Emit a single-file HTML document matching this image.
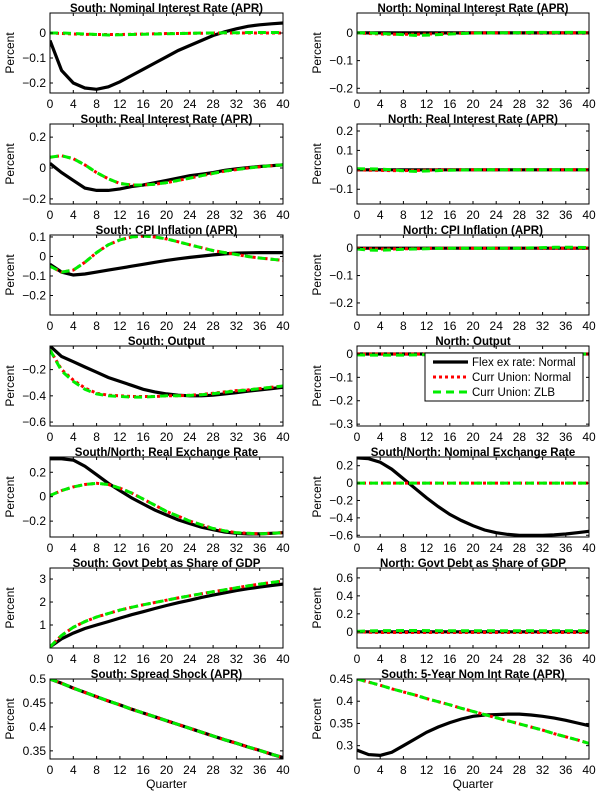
<!DOCTYPE html>
<html><head><meta charset="utf-8">
<style>
html,body{margin:0;padding:0;background:#fff;}
svg{display:block;font-family:"Liberation Sans",Arial,sans-serif;}
</style></head>
<body>
<svg id="fig" width="600" height="794" viewBox="0 0 600 794"></svg>
<script>
const quarters=[0,2,4,6,8,10,12,14,16,18,20,22,24,26,28,30,32,34,36,38,40];
const xTicks=[0,4,8,12,16,20,24,28,32,36,40];

// South: Nominal Interest Rate
const sNomFlex=[-0.03,-0.15,-0.2,-0.22,-0.225,-0.215,-0.195,-0.17,-0.145,-0.12,-0.095,-0.07,-0.05,-0.03,-0.01,0.005,0.017,0.027,0.033,0.037,0.04];
const sNomCU=[0,-0.002,-0.004,-0.005,-0.006,-0.006,-0.006,-0.005,-0.004,-0.003,-0.002,-0.002,-0.001,-0.001,0,0,0,0,0,0,0];
const sNomZLB=[0,0,-0.002,-0.004,-0.006,-0.008,-0.007,-0.006,-0.005,-0.004,-0.003,-0.002,-0.001,0,0,0.001,0.001,0.002,0.002,0.002,0.002];
const sNomTicks=[-0.2,-0.1,0];
// South: Real Interest Rate
const sRealFlex=[0.03,-0.03,-0.08,-0.13,-0.145,-0.145,-0.135,-0.12,-0.11,-0.095,-0.08,-0.065,-0.05,-0.04,-0.03,-0.015,-0.005,0.003,0.01,0.015,0.02];
const sRealCU=[0.07,0.08,0.06,0.02,-0.03,-0.07,-0.1,-0.11,-0.11,-0.105,-0.095,-0.08,-0.065,-0.05,-0.035,-0.02,-0.01,0,0.008,0.015,0.02];
const sRealZLB=[0.07,0.08,0.06,0.02,-0.03,-0.07,-0.1,-0.11,-0.11,-0.105,-0.095,-0.08,-0.065,-0.05,-0.035,-0.02,-0.01,0,0.008,0.015,0.02];
const sRealTicks=[-0.2,0,0.2];
// South: CPI Inflation
const sCpiFlex=[-0.04,-0.08,-0.095,-0.09,-0.08,-0.07,-0.06,-0.05,-0.04,-0.03,-0.02,-0.012,-0.005,0.002,0.008,0.013,0.017,0.019,0.02,0.02,0.02];
const sCpiCU=[-0.05,-0.08,-0.07,-0.03,0.02,0.06,0.085,0.1,0.105,0.1,0.09,0.075,0.06,0.045,0.03,0.02,0.01,0,-0.008,-0.014,-0.02];
const sCpiZLB=[-0.05,-0.08,-0.07,-0.03,0.02,0.06,0.085,0.1,0.105,0.1,0.09,0.075,0.06,0.045,0.03,0.02,0.01,0,-0.008,-0.014,-0.02];
const sCpiTicks=[-0.2,-0.1,0,0.1];
// South: Output
const sOutFlex=[-0.02,-0.1,-0.14,-0.18,-0.22,-0.26,-0.29,-0.32,-0.35,-0.37,-0.385,-0.395,-0.4,-0.4,-0.395,-0.385,-0.375,-0.365,-0.355,-0.345,-0.335];
const sOutCU=[-0.05,-0.2,-0.28,-0.34,-0.38,-0.395,-0.4,-0.405,-0.405,-0.405,-0.4,-0.4,-0.395,-0.39,-0.38,-0.37,-0.36,-0.355,-0.345,-0.335,-0.325];
const sOutZLB=[-0.05,-0.21,-0.29,-0.35,-0.385,-0.4,-0.405,-0.41,-0.41,-0.405,-0.4,-0.4,-0.397,-0.392,-0.383,-0.373,-0.363,-0.355,-0.345,-0.335,-0.325];
const sOutTicks=[-0.6,-0.4,-0.2];
// South/North: Real Exchange Rate
const rerFlex=[0.31,0.31,0.3,0.25,0.18,0.11,0.05,-0.01,-0.06,-0.11,-0.15,-0.19,-0.22,-0.25,-0.27,-0.29,-0.3,-0.305,-0.305,-0.3,-0.295];
const rerCU=[0.01,0.05,0.08,0.1,0.11,0.1,0.07,0.03,-0.02,-0.07,-0.12,-0.16,-0.2,-0.23,-0.26,-0.28,-0.295,-0.3,-0.305,-0.3,-0.295];
const rerZLB=[0.01,0.05,0.08,0.1,0.11,0.1,0.07,0.03,-0.02,-0.07,-0.12,-0.16,-0.2,-0.23,-0.26,-0.28,-0.295,-0.3,-0.305,-0.3,-0.295];
const rerTicks=[-0.2,0,0.2];
// South: Govt Debt
const sDebtFlex=[0.05,0.4,0.65,0.85,1.0,1.15,1.3,1.45,1.58,1.72,1.85,1.97,2.08,2.2,2.3,2.4,2.5,2.58,2.65,2.72,2.78];
const sDebtCU=[0.05,0.55,0.9,1.15,1.35,1.5,1.65,1.77,1.88,1.98,2.08,2.18,2.27,2.36,2.45,2.53,2.62,2.7,2.78,2.85,2.92];
const sDebtZLB=[0.05,0.55,0.9,1.15,1.35,1.5,1.65,1.77,1.88,1.98,2.08,2.18,2.27,2.36,2.45,2.53,2.62,2.7,2.78,2.85,2.92];
const sDebtTicks=[1,2,3];
// South: Spread Shock
const spread=[0.5,0.491,0.481,0.472,0.463,0.454,0.446,0.437,0.429,0.421,0.413,0.405,0.397,0.389,0.381,0.373,0.366,0.358,0.351,0.343,0.336];
const spreadTicks=[0.35,0.4,0.45,0.5];
// North: Nominal Interest Rate
const nNomFlex=[0,0,0,0,0,0,0,0,0,0,0,0,0,0,0,0,0,0,0,0,0];
const nNomCU=[0,-0.002,-0.004,-0.005,-0.005,-0.005,-0.004,-0.003,-0.002,-0.001,0,0,0,0,0,0,0,0,0,0,0];
const nNomZLB=[0,0,-0.002,-0.004,-0.006,-0.009,-0.008,-0.006,-0.004,-0.002,-0.001,0,0,0.001,0.001,0.002,0.002,0.002,0.002,0.002,0.002];
const nNomTicks=[-0.2,-0.1,0];
// North: Real Interest Rate
const nRealFlex=[0,0,0,0,0,0,0,0,0,0,0,0,0,0,0,0,0,0,0,0,0];
const nRealCU=[0,-0.002,-0.003,-0.004,-0.004,-0.003,-0.002,-0.001,0,0,0,0,0,0,0,0,0,0,0,0,0];
const nRealZLB=[0.006,0.005,0.004,0,-0.005,-0.008,-0.006,-0.004,-0.002,-0.001,0,0,0,0,0,0,0,0,0,0,0];
const nRealTicks=[-0.1,0,0.1,0.2];
// North: CPI Inflation
const nCpiFlex=[0,0,0,0,0,0,0,0,0,0,0,0,0,0,0,0,0,0,0,0,0];
const nCpiCU=[0,-0.002,-0.003,-0.003,-0.002,-0.002,-0.001,0,0,0,0,0,0,0,0,0,0,0,0,0,0];
const nCpiZLB=[-0.003,-0.007,-0.008,-0.006,-0.004,-0.003,-0.002,-0.001,0,0,0,0,0,0,0,0.001,0.002,0.003,0.003,0.003,0.002];
const nCpiTicks=[-0.2,-0.1,0];
// North: Output
const nOutFlex=[0,0,0,0,0,0,0,0,0,0,0,0,0,0,0,0,0,0,0,0,0];
const nOutCU=[0,0,0,0,0,0,0,0,0,0,0,0,0,0,0,0,0,0,0,0,0];
const nOutZLB=[-0.004,-0.005,-0.005,-0.005,-0.005,-0.004,-0.003,-0.002,-0.001,0,0,0,0,0,0,0,0,0,0,0,0];
const nOutTicks=[-0.3,-0.2,-0.1,0];
// South/North: Nominal Exchange Rate
const nerFlex=[0.29,0.28,0.24,0.16,0.05,-0.06,-0.17,-0.27,-0.36,-0.43,-0.49,-0.54,-0.57,-0.59,-0.6,-0.6,-0.6,-0.595,-0.585,-0.57,-0.555];
const nerCU=[0,0,0,0,0,0,0,0,0,0,0,0,0,0,0,0,0,0,0,0,0];
const nerZLB=[0,0,0,0,0,0,0,0,0,0,0,0,0,0,0,0,0,0,0,0,0];
const nerTicks=[-0.6,-0.4,-0.2,0,0.2];
// North: Govt Debt
const nDebtFlex=[0,0,0,0,0,0,0,0,0,0,0,0,0,0,0,0,0,0,0,0,0];
const nDebtCU=[0,-0.005,-0.008,-0.008,-0.008,-0.008,-0.008,-0.008,-0.008,-0.008,-0.008,-0.008,-0.008,-0.008,-0.008,-0.008,-0.008,-0.008,-0.008,-0.008,-0.008];
const nDebtZLB=[0.005,0.01,0.012,0.014,0.015,0.015,0.014,0.013,0.012,0.012,0.011,0.011,0.011,0.011,0.011,0.011,0.011,0.011,0.011,0.011,0.011];
const nDebtTicks=[0,0.2,0.4,0.6];
// South: 5-Year Nom Int Rate
const fiveFlex=[0.29,0.28,0.278,0.285,0.3,0.315,0.33,0.342,0.352,0.36,0.366,0.369,0.37,0.371,0.371,0.369,0.366,0.362,0.357,0.351,0.345];
const fiveCU=[0.45,0.443,0.436,0.428,0.421,0.414,0.406,0.399,0.392,0.384,0.377,0.37,0.363,0.356,0.349,0.342,0.335,0.327,0.32,0.313,0.305];
const fiveTicks=[0.3,0.35,0.4,0.45];

const panels=[
 {c:0,r:0,t:"South: Nominal Interest Rate (APR)",yr:[-0.24,0.08],tk:sNomTicks,s:[sNomFlex,sNomCU,sNomZLB],n:"south-nominal-rate"},
 {c:0,r:1,t:"South: Real Interest Rate (APR)",yr:[-0.233,0.285],tk:sRealTicks,s:[sRealFlex,sRealCU,sRealZLB],n:"south-real-rate"},
 {c:0,r:2,t:"South: CPI Inflation (APR)",yr:[-0.3,0.11],tk:sCpiTicks,s:[sCpiFlex,sCpiCU,sCpiZLB],n:"south-cpi"},
 {c:0,r:3,t:"South: Output",yr:[-0.63,-0.02],tk:sOutTicks,s:[sOutFlex,sOutCU,sOutZLB],n:"south-output"},
 {c:0,r:4,t:"South/North: Real Exchange Rate",yr:[-0.33,0.325],tk:rerTicks,s:[rerFlex,rerCU,rerZLB],n:"real-exchange-rate"},
 {c:0,r:5,t:"South: Govt Debt as Share of GDP",yr:[0,3.48],tk:sDebtTicks,s:[sDebtFlex,sDebtCU,sDebtZLB],n:"south-govt-debt"},
 {c:0,r:6,t:"South: Spread Shock (APR)",yr:[0.333,0.5],tk:spreadTicks,s:[spread,spread,spread],n:"south-spread-shock"},
 {c:1,r:0,t:"North: Nominal Interest Rate (APR)",yr:[-0.217,0.072],tk:nNomTicks,s:[nNomFlex,nNomCU,nNomZLB],n:"north-nominal-rate"},
 {c:1,r:1,t:"North: Real Interest Rate (APR)",yr:[-0.176,0.236],tk:nRealTicks,s:[nRealFlex,nRealCU,nRealZLB],n:"north-real-rate"},
 {c:1,r:2,t:"North: CPI Inflation (APR)",yr:[-0.244,0.048],tk:nCpiTicks,s:[nCpiFlex,nCpiCU,nCpiZLB],n:"north-cpi"},
 {c:1,r:3,t:"North: Output",yr:[-0.308,0.034],tk:nOutTicks,s:[nOutFlex,nOutCU,nOutZLB],n:"north-output"},
 {c:1,r:4,t:"South/North: Nominal Exchange Rate",yr:[-0.62,0.3],tk:nerTicks,s:[nerFlex,nerCU,nerZLB],n:"nominal-exchange-rate"},
 {c:1,r:5,t:"North: Govt Debt as Share of GDP",yr:[-0.18,0.71],tk:nDebtTicks,s:[nDebtFlex,nDebtCU,nDebtZLB],n:"north-govt-debt"},
 {c:1,r:6,t:"South: 5-Year Nom Int Rate (APR)",yr:[0.27,0.45],tk:fiveTicks,s:[fiveFlex,fiveCU,fiveCU],n:"south-5yr-rate"}
];
const NS="http://www.w3.org/2000/svg";
const fig=document.getElementById('fig');
function mk(tag,attrs,parent,text){const e=document.createElementNS(NS,tag);for(const k in attrs)e.setAttribute(k,attrs[k]);if(text!==undefined)e.textContent=text;parent.appendChild(e);return e;}
const styles=[{stroke:"#000",w:3.2,d:"none",nm:"flex-normal-line"},{stroke:"#ff0000",w:3,d:"3,3",nm:"curr-union-normal-line"},{stroke:"#00ee00",w:3,d:"8,5",nm:"curr-union-zlb-line"}];
function fmt(v){let s=String(Math.round(v*1000)/1000);return s.replace("-","\u2212");}
panels.forEach(p=>{
  const x0=p.c?357:50,x1=p.c?589:283,y0=13+111*p.r,y1=93+111*p.r;
  const g=mk('g',{},fig);
  
  
  const xs=q=>x0+(q/40)*(x1-x0);
  const ys=v=>y1-(v-p.yr[0])/(p.yr[1]-p.yr[0])*(y1-y0);
  const cid='clip'+p.n;
  const cp=mk('clipPath',{id:cid},g);mk('rect',{x:x0,y:y0,width:x1-x0,height:y1-y0},cp);
  mk('rect',{x:x0,y:y0,width:x1-x0,height:y1-y0,fill:"#fff"},g);
  p.s.forEach((arr,i)=>{
    const st=styles[i];
    const pts=arr.map((v,j)=>xs(quarters[j]).toFixed(1)+","+ys(v).toFixed(1)).join(" ");
    const pl=mk('polyline',{points:pts,fill:"none",stroke:st.stroke,"stroke-width":st.w,"stroke-dasharray":st.d,"clip-path":"url(#"+cid+")"},g);
    
    
  });
  const box=mk('rect',{x:x0,y:y0,width:x1-x0,height:y1-y0,fill:"none",stroke:"#000","stroke-width":1},g);
  
  
  xTicks.forEach(q=>{
    const x=xs(q);
    mk('line',{x1:x,x2:x,y1:y1,y2:y1-3,stroke:"#000"},g);
    mk('line',{x1:x,x2:x,y1:y0,y2:y0+3,stroke:"#000"},g);
    const t=mk('text',{x:x,y:y1+15,"text-anchor":"middle","font-size":"12",fill:"#000"},g,String(q));
    
    
  });
  p.tk.forEach(v=>{
    const y=ys(v);
    mk('line',{x1:x0,x2:x0+3,y1:y,y2:y,stroke:"#000"},g);
    mk('line',{x1:x1,x2:x1-3,y1:y,y2:y,stroke:"#000"},g);
    const t=mk('text',{x:x0-4,y:y+4,"text-anchor":"end","font-size":"12",fill:"#000"},g,fmt(v));
    
    
  });
  const yl=mk('text',{x:0,y:0,transform:"translate("+(x0-36)+","+((y0+y1)/2)+") rotate(-90)","text-anchor":"middle","font-size":"12",fill:"#000"},g,"Percent");
  
  
  const tt=mk('text',{x:(x0+x1)/2,y:y0-1,"text-anchor":"middle","font-size":"11.5","font-weight":"bold",fill:"#000"},g,p.t);
  
  
  if(p.r===6){
    const xl=mk('text',{x:(x0+x1)/2,y:y1+29,"text-anchor":"middle","font-size":"12",fill:"#000"},g,"Quarter");
    
    
  }
});
// legend
const lg=mk('g',{},fig);


mk('rect',{x:425,y:353,width:158,height:48,fill:"#fff",stroke:"#000","stroke-width":1},lg);
const labels=["Flex ex rate: Normal","Curr Union: Normal","Curr Union: ZLB"];
labels.forEach((l,i)=>{
  const y=362+i*15,st=styles[i];
  const ln=mk('line',{x1:433,x2:468,y1:y,y2:y,stroke:st.stroke,"stroke-width":st.w,"stroke-dasharray":st.d},lg);
  
  
  const t=mk('text',{x:472,y:y+4,"font-size":"11.5",fill:"#000"},lg,l);
  
  
});
</script>
</body></html>
